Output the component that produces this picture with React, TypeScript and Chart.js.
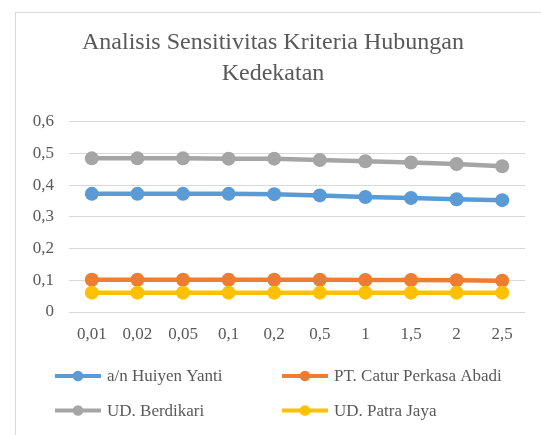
import React, { useEffect, useRef } from "react";
import { Chart, registerables } from "chart.js";

Chart.register(...registerables);

const categories = ["0,01", "0,02", "0,05", "0,1", "0,2", "0,5", "1", "1,5", "2", "2,5"];
const huiyenYanti = [0.373, 0.373, 0.373, 0.373, 0.372, 0.368, 0.363, 0.36, 0.356, 0.353];
const caturPerkasa = [0.102, 0.102, 0.102, 0.102, 0.102, 0.102, 0.101, 0.101, 0.1, 0.099];
const berdikari = [0.485, 0.485, 0.485, 0.484, 0.484, 0.48, 0.476, 0.472, 0.467, 0.46];
const patraJaya = [0.061, 0.061, 0.061, 0.061, 0.061, 0.061, 0.061, 0.061, 0.061, 0.061];
const seriesNames = ["a/n Huiyen Yanti", "PT. Catur Perkasa Abadi", "UD. Berdikari", "UD. Patra Jaya"];
const seriesColors = ["#5B9BD5", "#ED7D31", "#A5A5A5", "#FFC000"];
const titleLines = ["Analisis Sensitivitas Kriteria Hubungan", "Kedekatan"];

const FONT = "'Liberation Serif', 'Times New Roman', serif";
const TEXT = "#595959";

const framePlugin = {
  id: "frame",
  beforeDraw(chart: any) {
    const ctx = chart.ctx;
    ctx.save();
    ctx.fillStyle = "#ffffff";
    ctx.fillRect(0, 0, chart.width, chart.height);
    ctx.strokeStyle = "#D9D9D9";
    ctx.lineWidth = 1;
    ctx.strokeRect(15.5, 12.5, chart.width + 100, chart.height + 100);
    ctx.restore();
  },
};

const legendPlugin = {
  id: "customLegend",
  afterDraw(chart: any) {
    const ctx = chart.ctx;
    const area = chart.chartArea;
    const colX = [55, 282];
    const rowY = [area.bottom + 64, area.bottom + 98.5];
    ctx.save();
    ctx.font = `17px ${FONT}`;
    ctx.textBaseline = "middle";
    ctx.textAlign = "left";
    chart.data.datasets.forEach((ds: any, i: number) => {
      const x = colX[i % 2];
      const y = rowY[Math.floor(i / 2)];
      ctx.strokeStyle = ds.borderColor;
      ctx.lineWidth = 4;
      ctx.beginPath();
      ctx.moveTo(x, y);
      ctx.lineTo(x + 46, y);
      ctx.stroke();
      ctx.fillStyle = ds.borderColor;
      ctx.beginPath();
      ctx.arc(x + 23, y, 5.3, 0, Math.PI * 2);
      ctx.fill();
      ctx.fillStyle = TEXT;
      ctx.fillText(ds.label, x + 52, y + 1);
    });
    ctx.restore();
  },
};

export default function App() {
  const ref = useRef<HTMLCanvasElement>(null);
  useEffect(() => {
    if (!ref.current) return;
    const values = [huiyenYanti, caturPerkasa, berdikari, patraJaya];
    const chart = new Chart(ref.current, {
      type: "line",
      data: {
        labels: categories,
        datasets: values.map((v, i) => ({
          label: seriesNames[i],
          data: v,
          borderColor: seriesColors[i],
          backgroundColor: seriesColors[i],
          pointBackgroundColor: seriesColors[i],
          pointBorderColor: seriesColors[i],
          borderWidth: 4.5,
          pointRadius: 7,
          pointBorderWidth: 0,
          tension: 0,
          order: 4 - i,
        })),
      },
      options: {
        animation: false,
        responsive: true,
        maintainAspectRatio: false,
        layout: { padding: { left: 21, right: 16, top: 0, bottom: 0 } },
        plugins: {
          legend: { display: false },
          tooltip: { enabled: false },
          title: {
            display: true,
            text: titleLines,
            color: TEXT,
            font: { family: FONT, size: 24, weight: "normal", lineHeight: 1.29 },
            padding: { top: 27.5, bottom: 32.5 },
          },
        },
        scales: {
          x: {
            offset: true,
            grid: { display: false, drawTicks: false },
            border: { display: false },
            ticks: { color: TEXT, font: { family: FONT, size: 17 }, padding: 12, maxRotation: 0, autoSkip: false },
            afterFit(scale: any) {
              scale.height = 123;
            },
          },
          y: {
            min: 0,
            max: 0.6,
            grid: { color: "#D9D9D9", lineWidth: 1, drawTicks: false },
            border: { display: false },
            ticks: {
              stepSize: 0.1,
              color: TEXT,
              padding: 15,
              font: { family: FONT, size: 17 },
              callback: (v: any) => (Math.round(Number(v) * 10) / 10).toString().replace(".", ","),
            },
            afterFit(scale: any) {
              scale.width = 48;
            },
          },
        },
      },
      plugins: [framePlugin, legendPlugin],
    });
    return () => chart.destroy();
  }, []);
  return (
    <div style={{ position: "fixed", left: 0, top: 0, width: 541, height: 435 }}>
      <canvas ref={ref} />
    </div>
  );
}
